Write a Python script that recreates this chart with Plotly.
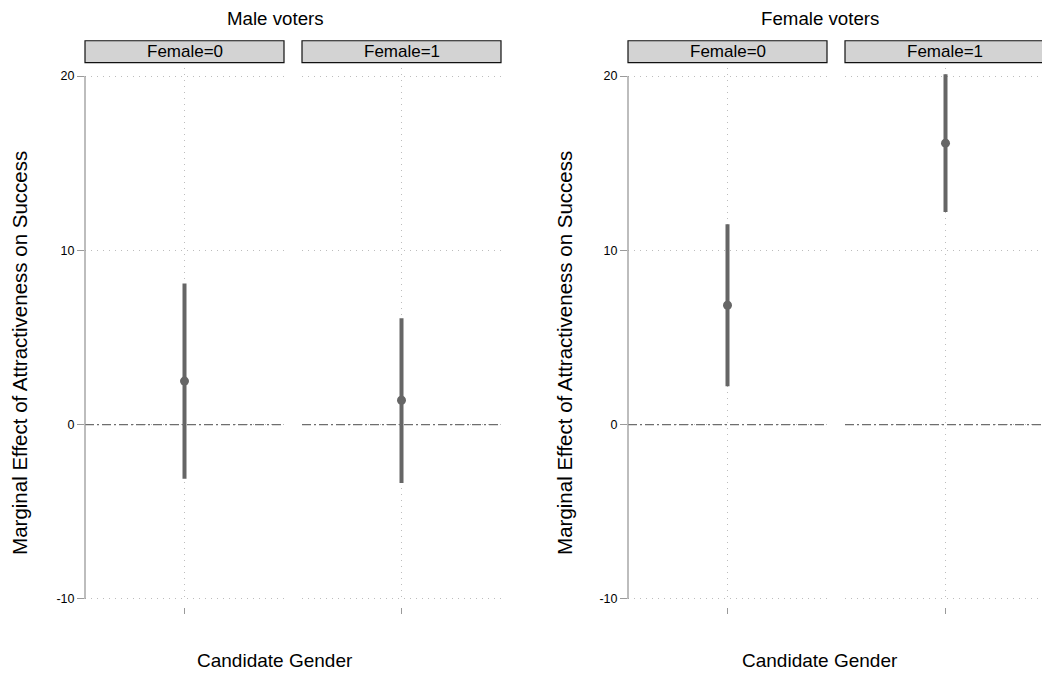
import plotly.graph_objects as go

# Marginal effect of attractiveness on electoral success, by voter gender
# and candidate gender (point estimate with confidence interval).
voter_groups = ["Male voters", "Female voters"]
facets = ["Female=0", "Female=1"]
estimate = {"Male voters": [2.5, 1.4], "Female voters": [6.85, 16.15]}
ci_low = {"Male voters": [-3.1, -3.35], "Female voters": [2.2, 12.2]}
ci_high = {"Male voters": [8.1, 6.1], "Female voters": [11.5, 20.1]}
y_ticks = [-10, 0, 10, 20]

W, H = 1042, 677
FONT = "Liberation Sans, Arial, sans-serif"
MARK = "#666666"
GRID = "#bdbdbd"
AXIS = "#9a9a9a"


def px(x):
    return x / W


def py(y):
    return 1 - y / H


# panel pixel extents (left, right) for each voter group / facet
panel_x = {
    "Male voters": [(85, 284), (302, 501)],
    "Female voters": [(628, 827), (845, 1042)],
}
title_x = {"Male voters": 275, "Female voters": 820}
ytitle_x = {"Male voters": 20, "Female voters": 565}

Y_TOP, Y_BOT = 68, 606
PX_PER_UNIT = (602.5 - 76.5) / 30.0
y_range = [-10 - (Y_BOT - 602.5) / PX_PER_UNIT, 20 + (76.5 - Y_TOP) / PX_PER_UNIT]

fig = go.Figure()
layout = dict(
    width=W,
    height=H,
    margin=dict(l=0, r=0, t=0, b=0),
    paper_bgcolor="white",
    plot_bgcolor="white",
    showlegend=False,
    font=dict(family=FONT, color="black"),
)
shapes, annotations = [], []

ax = 0
for g, group in enumerate(voter_groups):
    yname = "yaxis" if g == 0 else f"yaxis{g + 1}"
    yref = "y" if g == 0 else f"y{g + 1}"
    first_x = None
    for f, facet in enumerate(facets):
        ax += 1
        xname = "xaxis" if ax == 1 else f"xaxis{ax}"
        xref = "x" if ax == 1 else f"x{ax}"
        if first_x is None:
            first_x = xref
        left, right = panel_x[group][f]
        centre = (left + right) / 2 if right < W else 945.5
        half = 0.5
        lo_r = -half
        hi_r = (right - centre) / (centre - left) * half
        layout[xname] = dict(
            domain=[px(left), px(right)],
            range=[lo_r, hi_r],
            type="category",
            anchor="free",
            position=py(611),
            showline=False,
            showgrid=True,
            gridcolor=GRID,
            griddash="1px,5px",
            gridwidth=1,
            ticks="outside",
            ticklen=6,
            tickcolor=AXIS,
            showticklabels=False,
            zeroline=False,
            fixedrange=True,
        )

        # confidence interval and point estimate
        fig.add_trace(go.Scatter(
            x=[facet, facet],
            y=[ci_low[group][f], ci_high[group][f]],
            mode="lines",
            line=dict(color=MARK, width=4),
            xaxis=xref, yaxis=yref, hoverinfo="skip",
        ))
        fig.add_trace(go.Scatter(
            x=[facet],
            y=[estimate[group][f]],
            mode="markers",
            marker=dict(color=MARK, size=9),
            xaxis=xref, yaxis=yref,
        ))

        # zero reference line
        shapes.append(dict(
            type="line", xref=f"{xref} domain", yref=yref,
            x0=0, x1=1, y0=0, y1=0,
            line=dict(color="#6e6e6e", width=1.2, dash="9px,3px,2px,3px"),
        ))

        # facet strip
        x1 = 1.003 if right >= W else px(right)
        shapes.append(dict(
            type="rect", xref="paper", yref="paper",
            x0=px(left), x1=x1, y0=py(63), y1=py(41),
            fillcolor="#d3d3d3", line=dict(color="#111111", width=1.2),
            layer="above",
        ))
        annotations.append(dict(
            text=facet, xref="paper", yref="paper",
            x=(px(left) + min(x1, 1.0)) / 2 if right < W else px((left + right + 2) / 2),
            y=py(52), xanchor="center", yanchor="middle",
            showarrow=False, font=dict(size=17, family=FONT, color="black"),
        ))

    layout[yname] = dict(
        domain=[py(Y_BOT), py(Y_TOP)],
        range=y_range,
        anchor=first_x,
        tickmode="array",
        tickvals=y_ticks,
        ticktext=[str(v) for v in y_ticks],
        ticks="outside",
        ticklen=7,
        tickcolor=AXIS,
        tickfont=dict(size=12.5, family=FONT, color="black"),
        showline=False,
        showgrid=True,
        gridcolor=GRID,
        griddash="1px,5px",
        gridwidth=1,
        zeroline=False,
        fixedrange=True,
    )

    # y axis line spanning the labelled range
    shapes.append(dict(
        type="line", xref=f"{first_x} domain", yref=yref,
        x0=0, x1=0, y0=min(y_ticks), y1=max(y_ticks),
        line=dict(color=AXIS, width=1.3),
    ))

    # group title, axis titles
    annotations.append(dict(
        text=group, xref="paper", yref="paper",
        x=px(title_x[group]), y=py(19), xanchor="center", yanchor="middle",
        showarrow=False, font=dict(size=18.7, family=FONT, color="black"),
    ))
    annotations.append(dict(
        text="Candidate Gender", xref="paper", yref="paper",
        x=px(title_x[group]), y=py(664), xanchor="center", yanchor="middle",
        showarrow=False, font=dict(size=19, family=FONT, color="black"),
    ))
    annotations.append(dict(
        text="Marginal Effect of Attractiveness on Success",
        xref="paper", yref="paper",
        x=px(ytitle_x[group]), y=py(355), xanchor="center", yanchor="middle",
        textangle=-90,
        showarrow=False, font=dict(size=20.5, family=FONT, color="black"),
    ))

layout["shapes"] = shapes
layout["annotations"] = annotations
fig.update_layout(**layout)

fig.write_html("out.html")
